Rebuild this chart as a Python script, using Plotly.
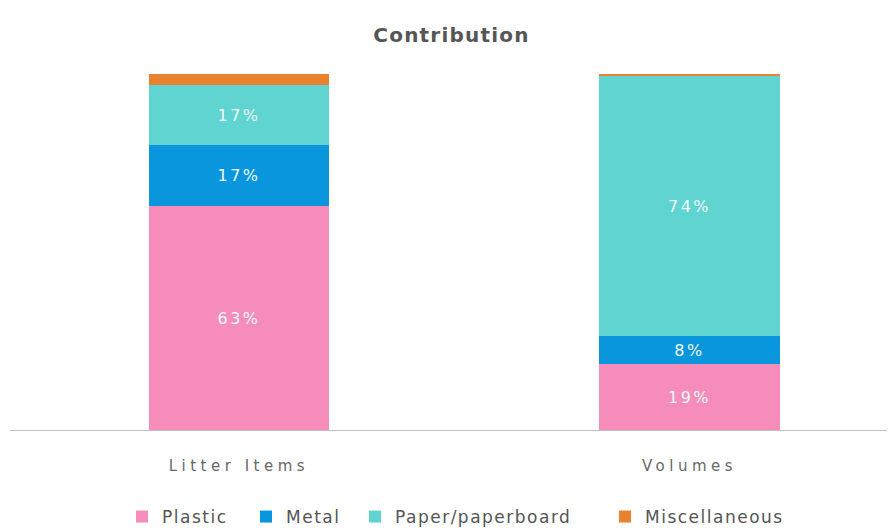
import plotly.graph_objects as go

categories = ["Litter Items", "Volumes"]
series_names = ["Plastic", "Metal", "Paper/paperboard", "Miscellaneous"]
plastic = [63, 18.6]
metal = [17, 7.9]
paper = [17, 73.0]
misc = [3, 0.5]
plastic_labels = ["63%", "19%"]
metal_labels = ["17%", "8%"]
paper_labels = ["17%", "74%"]
misc_labels = ["", ""]

colors = ["#F68CBA", "#0A96DC", "#5FD4D0", "#E8822E"]
series = [plastic, metal, paper, misc]
labels = [plastic_labels, metal_labels, paper_labels, misc_labels]
legend_ids = ["legend", "legend2", "legend3", "legend4"]
legend_text_x = [162, 286, 395, 645]  # screen px where each legend text starts
legend_entry_w = [110, 100, 230, 180]

FONT = "DejaVu Sans"
FIG_W, FIG_H = 887, 524

fig = go.Figure()
for name, vals, txt, col, lid in zip(series_names, series, labels, colors, legend_ids):
    fig.add_trace(go.Bar(
        x=categories, y=vals, name=name, marker=dict(color=col, line=dict(width=0)),
        text=txt, textposition="inside", insidetextanchor="middle",
        textfont=dict(color="#EEF9F9", size=16, family=FONT),
        width=0.4, hoverinfo="skip", cliponaxis=False, legend=lid, showlegend=True,
    ))

legend_layout = {}
for lid, tx, ew in zip(legend_ids, legend_text_x, legend_entry_w):
    legend_layout[lid] = dict(
        orientation="h", xref="container", yref="container",
        x=(tx - 8 - 40) / FIG_W, xanchor="left",
        y=15 / FIG_H, yanchor="middle",
        font=dict(size=17, color="#555555", family=FONT), itemwidth=30,
        entrywidth=ew, entrywidthmode="pixels",
        bgcolor="rgba(0,0,0,0)",
    )

fig.update_layout(
    barmode="stack",
    showlegend=True,
    width=FIG_W, height=FIG_H,
    margin=dict(l=2, r=0, t=66, b=102),
    paper_bgcolor="white", plot_bgcolor="white",
    title=dict(text="<b>Contribution</b>", x=0.5, xanchor="center", y=0.948, yanchor="middle",
               font=dict(size=20, color="#555555", family=FONT)),
    xaxis=dict(range=[-0.508, 1.456], showline=True, linecolor="#BFBFBF", linewidth=1,
               ticks="", tickfont=dict(size=15, color="#666666", family=FONT),
               ticklabelstandoff=22, showgrid=False),
    yaxis=dict(range=[0, 100], visible=False, showgrid=False),
    bargap=0,
    **legend_layout,
)

post = """
var s=document.createElement('style');
s.textContent='.xtick text{letter-spacing:4.5px} text.legendtext, .infolayer g[class^="legend"] text{letter-spacing:1.5px !important} .gtitle{letter-spacing:1.2px} .bartext{letter-spacing:2.5px}';
document.head.appendChild(s);
var gd=document.getElementById('{plot_id}');
gd.layout.xaxis.tickfont.color='#676767';
gd.layout.title.font.color='#565656';
gd.data.forEach(function(t){t.textfont.color='#EFF9F9';});
Plotly.newPlot(gd, gd.data, gd.layout, gd._context);
"""
fig.write_html("out.html", post_script=post)
